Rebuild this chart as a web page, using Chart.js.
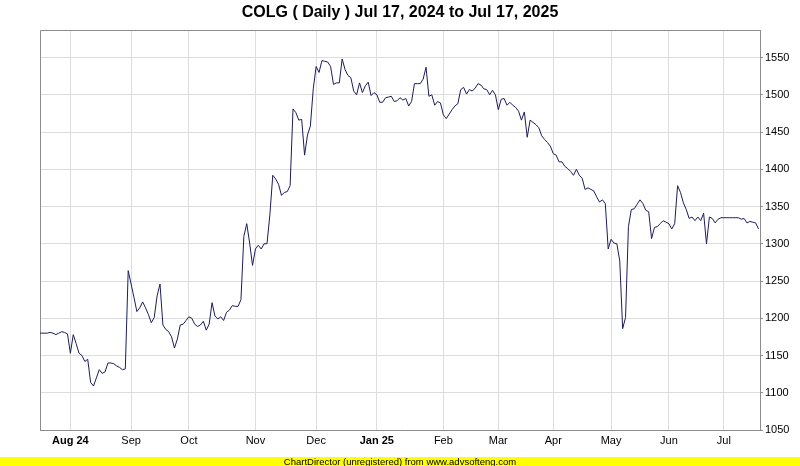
<!DOCTYPE html>
<html>
<head>
<meta charset="utf-8">
<title>COLG Daily</title>
<script src="https://cdn.jsdelivr.net/npm/chart.js@4/dist/chart.umd.min.js"></script>
<style>
  html, body { margin: 0; padding: 0; background: #fff; }
  #wrap { width: 800px; height: 466px; position: relative; }
</style>
</head>
<body>
<div id="wrap"><canvas id="colgChart" width="800" height="466"></canvas></div>
<script>
'use strict';

// Cours de cloture quotidiens, du 17 juil. 2024 au 17 juil. 2025
var julyCloses24 = [1180, 1180, 1180, 1180, 1181, 1180, 1178, 1180, 1182, 1181, 1179];
var augCloses = [1153, 1178, 1166, 1153, 1150, 1142, 1145, 1114, 1109, 1120, 1131, 1126, 1128, 1140, 1140, 1139, 1136, 1134, 1131, 1132, 1264];
var sepCloses = [1246, 1228, 1209, 1214, 1222, 1214, 1205, 1194, 1201, 1230, 1246, 1191, 1185, 1182, 1175, 1160, 1172, 1191, 1192, 1197];
var octCloses = [1202, 1200, 1192, 1189, 1191, 1196, 1184, 1192, 1221, 1203, 1199, 1202, 1197, 1208, 1211, 1217, 1216, 1216, 1225, 1310, 1327, 1301, 1271];
var novCloses = [1293, 1298, 1293, 1300, 1300, 1339, 1392, 1387, 1380, 1365, 1369, 1370, 1378, 1481, 1476, 1466, 1467, 1419, 1446, 1458, 1508];
var decCloses = [1538, 1530, 1546, 1545, 1544, 1538, 1514, 1516, 1516, 1548, 1534, 1526, 1523, 1505, 1500, 1516, 1503, 1512, 1517, 1499, 1503];
var janCloses = [1500, 1490, 1490, 1496, 1497, 1498, 1491, 1492, 1496, 1493, 1495, 1485, 1491, 1515, 1515, 1515, 1521, 1537, 1498, 1500, 1486, 1491, 1489];
var febCloses = [1473, 1468, 1474, 1480, 1485, 1488, 1507, 1510, 1501, 1507, 1505, 1509, 1515, 1513, 1508, 1507, 1500, 1506, 1500];
var marCloses = [1480, 1494, 1495, 1486, 1490, 1486, 1483, 1478, 1466, 1477, 1443, 1466, 1463, 1460, 1456, 1445, 1440, 1436, 1431];
var aprCloses = [1421, 1419, 1410, 1410, 1404, 1401, 1397, 1392, 1400, 1392, 1388, 1373, 1375, 1373, 1371, 1363, 1356, 1359, 1354, 1293];
var mayCloses = [1306, 1301, 1300, 1277, 1186, 1201, 1323, 1346, 1347, 1353, 1359, 1354, 1345, 1343, 1307, 1322, 1323, 1327, 1331, 1329];
var junCloses = [1327, 1320, 1327, 1378, 1369, 1355, 1346, 1334, 1336, 1331, 1336, 1331, 1341, 1300, 1336, 1334, 1328, 1333, 1335];
var julyCloses25 = [1335, 1335, 1335, 1335, 1335, 1335, 1333, 1334, 1328, 1330, 1329, 1328, 1320];

var monthBlocks = [julyCloses24, augCloses, sepCloses, octCloses, novCloses, decCloses,
  janCloses, febCloses, marCloses, aprCloses, mayCloses, junCloses, julyCloses25];

var monthLabels = ['Aug 24', 'Sep', 'Oct', 'Nov', 'Dec', 'Jan 25', 'Feb', 'Mar', 'Apr', 'May', 'Jun', 'Jul'];
var yearLabels = ['Aug 24', 'Jan 25'];
var priceTicks = [1050, 1100, 1150, 1200, 1250, 1300, 1350, 1400, 1450, 1500, 1550];

var chartTitle = 'COLG ( Daily ) Jul 17, 2024 to Jul 17, 2025';
var footerText = 'ChartDirector (unregistered) from www.advsofteng.com';

// Serie complete + index du premier jour de chaque mois
var closes = [];
var monthStarts = [];
monthBlocks.forEach(function (block, m) {
  if (m > 0) {
    monthStarts.push(closes.length);
  }
  block.forEach(function (v) { closes.push(v); });
});

var points = closes.map(function (v, i) { return { x: i, y: v }; });

var fontFamily = "'Liberation Sans', Arial, Helvetica, sans-serif";

var frameAndText = {
  id: 'frameAndText',
  beforeDatasetsDraw: function (chart) {
    var ctx = chart.ctx;
    var a = chart.chartArea;
    ctx.save();
    ctx.strokeStyle = '#8c8c8c';
    ctx.lineWidth = 1;
    ctx.beginPath();
    ctx.moveTo(a.left + 0.5, a.bottom);
    ctx.lineTo(a.left + 0.5, a.top + 0.5);
    ctx.lineTo(a.right, a.top + 0.5);
    ctx.stroke();
    ctx.restore();
  },
  afterDraw: function (chart) {
    var ctx = chart.ctx;
    ctx.save();
    ctx.fillStyle = '#000';
    ctx.textAlign = 'center';
    ctx.textBaseline = 'middle';
    ctx.font = 'bold 16px ' + fontFamily;
    ctx.fillText(chartTitle, 400, 13);

    ctx.fillStyle = '#ffff00';
    ctx.fillRect(0, 457, chart.width, 9);
    ctx.fillStyle = '#000';
    ctx.font = '9.5px ' + fontFamily;
    ctx.fillText(footerText, 400, 462);
    ctx.restore();
  }
};

var canvas = document.getElementById('colgChart');

new Chart(canvas.getContext('2d'), {
  type: 'line',
  data: {
    datasets: [{
      label: 'COLG',
      data: points,
      borderColor: '#1c1c5c',
      borderWidth: 1,
      pointRadius: 0,
      tension: 0,
      fill: false
    }]
  },
  options: {
    animation: false,
    responsive: false,
    maintainAspectRatio: false,
    layout: {
      padding: { left: 40, top: 30, right: 0, bottom: 0 }
    },
    scales: {
      x: {
        type: 'linear',
        min: 0.5,
        max: 249.5,
        afterBuildTicks: function (scale) {
          scale.ticks = monthStarts.map(function (v) { return { value: v }; });
        },
        afterFit: function (scale) {
          scale.height = 36;
        },
        grid: {
          color: '#dddddd',
          drawTicks: false
        },
        border: {
          display: true,
          color: '#8c8c8c'
        },
        ticks: {
          autoSkip: false,
          maxRotation: 0,
          padding: 4,
          color: '#000',
          font: function (ctx) {
            var lbl = ctx.tick ? monthLabels[monthStarts.indexOf(ctx.tick.value)] : '';
            return {
              family: fontFamily,
              size: 11,
              weight: yearLabels.indexOf(lbl) >= 0 ? 'bold' : 'normal'
            };
          },
          callback: function (value) {
            var k = monthStarts.indexOf(value);
            return k >= 0 ? monthLabels[k] : '';
          }
        }
      },
      y: {
        type: 'linear',
        position: 'right',
        min: 1050,
        max: 1587,
        afterBuildTicks: function (scale) {
          scale.ticks = priceTicks.map(function (v) { return { value: v }; });
        },
        afterFit: function (scale) {
          scale.width = 40;
        },
        grid: {
          color: '#dddddd',
          tickColor: '#8c8c8c',
          tickLength: 3
        },
        border: {
          display: true,
          color: '#8c8c8c'
        },
        ticks: {
          padding: 2,
          color: '#000',
          font: { family: fontFamily, size: 11 },
          callback: function (value) {
            return String(value);
          }
        }
      }
    },
    plugins: {
      legend: { display: false },
      tooltip: { enabled: false },
      title: { display: false }
    }
  },
  plugins: [frameAndText]
});
</script>
</body>
</html>
